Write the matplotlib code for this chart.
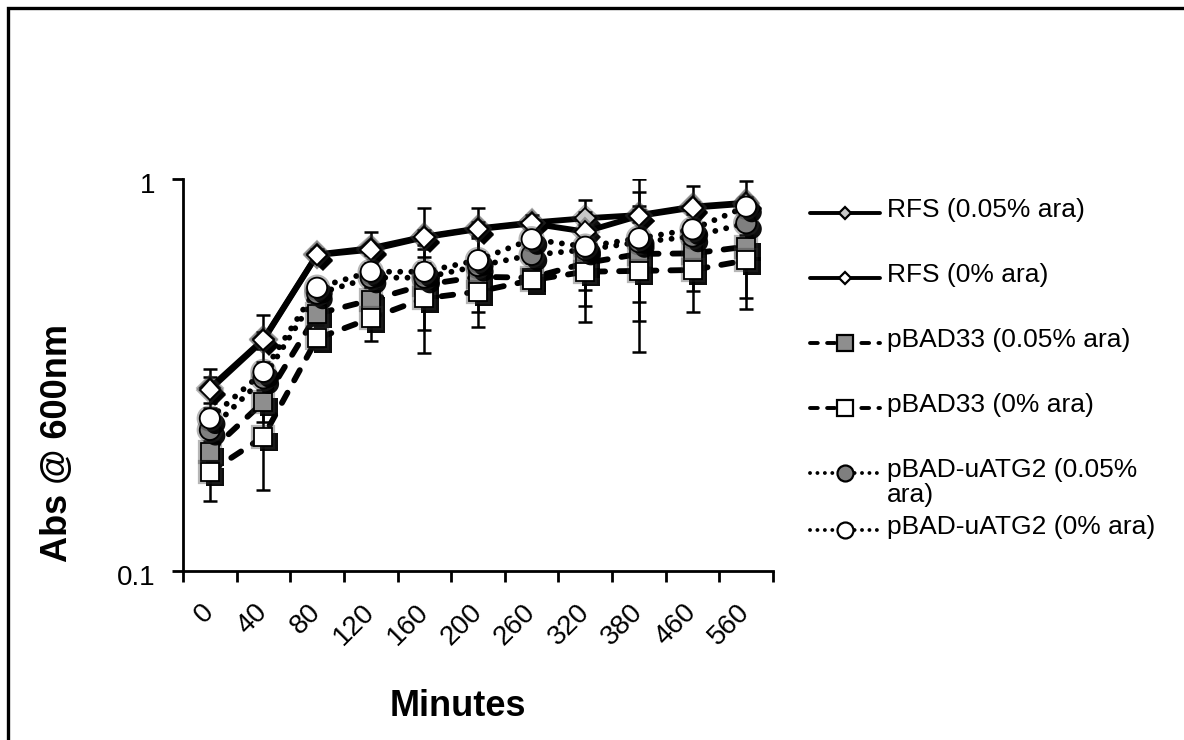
import matplotlib
matplotlib.use("Agg")
import matplotlib.pyplot as plt
import matplotlib.patheffects as pe
from matplotlib.lines import Line2D
from matplotlib.patches import Rectangle
from matplotlib.transforms import ScaledTranslation
import numpy as np

plt.rcParams['font.family'] = ['Liberation Sans', 'DejaVu Sans']

# Sampling times (minutes)
minutes = ['0', '40', '80', '120', '160', '200', '260', '320', '380', '460', '560']

# Absorbance at 600 nm and error bars, one pair of lists per culture
rfs_005 = [0.293, 0.39, 0.642, 0.666, 0.713, 0.748, 0.774, 0.794, 0.809, 0.85, 0.87]
rfs_005_err = [0.035, 0.06, 0.02, 0.068, 0.13, 0.097, 0.036, 0.09, 0.19, 0.11, 0.12]

rfs_0 = [0.29, 0.388, 0.64, 0.66, 0.71, 0.745, 0.77, 0.734, 0.805, 0.845, 0.865]
rfs_0_err = [0.022, 0.02, 0.02, 0.02, 0.03, 0.03, 0.02, 0.03, 0.03, 0.03, 0.03]

pbad33_005 = [0.2015, 0.27, 0.453, 0.491, 0.537, 0.563, 0.56, 0.61, 0.644, 0.646, 0.672]
pbad33_005_err = [0.02, 0.03, 0.03, 0.04, 0.125, 0.143, 0.03, 0.136, 0.21, 0.187, 0.206]

pbad33_0 = [0.179, 0.22, 0.392, 0.441, 0.496, 0.516, 0.552, 0.58, 0.583, 0.586, 0.62]
pbad33_0_err = [0.028, 0.059, 0.02, 0.056, 0.136, 0.057, 0.02, 0.149, 0.221, 0.067, 0.124]

uatg2_005 = [0.229, 0.31, 0.51, 0.56, 0.56, 0.60, 0.64, 0.66, 0.69, 0.713, 0.771]
uatg2_005_err = [0.015, 0.02, 0.02, 0.03, 0.03, 0.03, 0.03, 0.04, 0.05, 0.04, 0.05]

uatg2_0 = [0.245, 0.322, 0.528, 0.58, 0.58, 0.621, 0.702, 0.672, 0.706, 0.744, 0.85]
uatg2_0_err = [0.015, 0.02, 0.02, 0.03, 0.03, 0.03, 0.03, 0.15, 0.22, 0.04, 0.05]

series_labels = ['RFS (0.05% ara)', 'RFS (0% ara)', 'pBAD33 (0.05% ara)',
                 'pBAD33 (0% ara)', 'pBAD-uATG2 (0.05%\nara)', 'pBAD-uATG2 (0% ara)']

solid = '-'
dashed = (0, (2.0, 2.4))
dotted = (0, (0.01, 1.9))

# (values, errors, line style, marker, size, face, legend marker size)
series = [
    (rfs_005, rfs_005_err, solid, 'D', 10.5, '#c8c8c8', 6.5),
    (rfs_0, rfs_0_err, solid, 'D', 10.5, 'white', 6.5),
    (pbad33_005, pbad33_005_err, dashed, 's', 13, '#8e8e8e', 11),
    (pbad33_0, pbad33_0_err, dashed, 's', 13, 'white', 11),
    (uatg2_005, uatg2_005_err, dotted, 'o', 14.5, '#7f7f7f', 11.5),
    (uatg2_0, uatg2_0_err, dotted, 'o', 14.5, 'white', 11.5),
]

W, H = 1184, 740
fig = plt.figure(figsize=(W / 100, H / 100), dpi=100)
fig.patch.set_facecolor('white')

# outer chart border (runs off the right and bottom edges)
fig.add_artist(Rectangle((7.5 / W, -0.2), 2.0, 1.2 - 7.5 / H, transform=fig.transFigure,
                         fill=False, lw=2.4, ec='black'))

ax = fig.add_axes([183 / W, 1 - 571 / H, (773 - 183) / W, (571 - 179) / H])
x = np.arange(len(minutes))

marker_fx = [pe.SimplePatchShadow(offset=(4, -4), shadow_rgbFace='black', alpha=0.95),
             pe.Stroke(linewidth=4.5, foreground='#303030', alpha=0.35),
             pe.Normal()]

for vals, err, ls, mk, ms, fc, lms in series:
    ax.plot(x, vals, color='black', lw=4.2, ls=ls, dash_capstyle='round',
            solid_capstyle='round', zorder=2)
for vals, err, ls, mk, ms, fc, lms in series:
    ax.errorbar(x, vals, yerr=err, fmt='none', ecolor='black', elinewidth=1.8,
                capsize=5, capthick=1.8, zorder=3)
for i, (vals, err, ls, mk, ms, fc, lms) in enumerate(series):
    ax.plot(x, vals, ls='none', marker=mk, ms=ms, mfc=fc, mec='black', mew=1.3,
            path_effects=marker_fx, zorder=4 + i)

ax.set_yscale('log')
ax.set_ylim(0.1, 1)
ax.set_yticks([0.1, 1])
ax.set_yticklabels(['0.1', '1'])
ax.yaxis.set_minor_locator(matplotlib.ticker.NullLocator())
ax.set_xlim(-0.5, len(minutes) - 0.5)
ax.set_xticks(np.arange(len(minutes) + 1) - 0.5)
ax.set_xticklabels([])
ax.set_xticks(x, minor=True)
ax.set_xticklabels(minutes, minor=True, rotation=45, ha='right', va='center',
                   rotation_mode='anchor')

ax.tick_params(axis='x', which='major', direction='out', length=8, width=2)
ax.tick_params(axis='x', which='minor', length=0, pad=27, labelsize=20)
ax.tick_params(axis='y', which='major', direction='out', length=8, width=2,
               labelsize=20, pad=12)
for lab in ax.get_xticklabels(minor=True):
    lab.set_fontsize(20)
for lab in ax.get_yticklabels():
    lab.set_transform(lab.get_transform() + ScaledTranslation(0, -4 / 100, fig.dpi_scale_trans))

for s in ['top', 'right']:
    ax.spines[s].set_visible(False)
for s in ['left', 'bottom']:
    ax.spines[s].set_linewidth(2)

fig.text(458 / W, 1 - 706 / H, 'Minutes', fontsize=26, fontweight='bold',
         ha='center', va='center')
fig.text(57 / W, 1 - 443 / H, 'Abs @ 600nm', fontsize=26, fontweight='bold',
         ha='center', va='center', rotation=90)

# legend, drawn entry by entry
legend_y = [213, 278, 343, 408, 473, 530]
for (vals, err, ls, mk, ms, fc, lms), label, yc in zip(series, series_labels, legend_y):
    yf = 1 - yc / H
    fig.add_artist(Line2D([810 / W, 880 / W], [yf, yf], transform=fig.transFigure,
                          color='black', lw=2.8, ls=ls, dash_capstyle='round',
                          solid_capstyle='round'))
    fig.add_artist(Line2D([845 / W], [yf], transform=fig.transFigure, ls='none',
                          marker=mk, ms=lms, mfc=fc, mec='black', mew=1.6))
    fig.text(887 / W, 1 - (yc - 15) / H, label, fontsize=19, ha='left', va='top',
             linespacing=1.05)

fig.savefig('out.png', dpi=100)
